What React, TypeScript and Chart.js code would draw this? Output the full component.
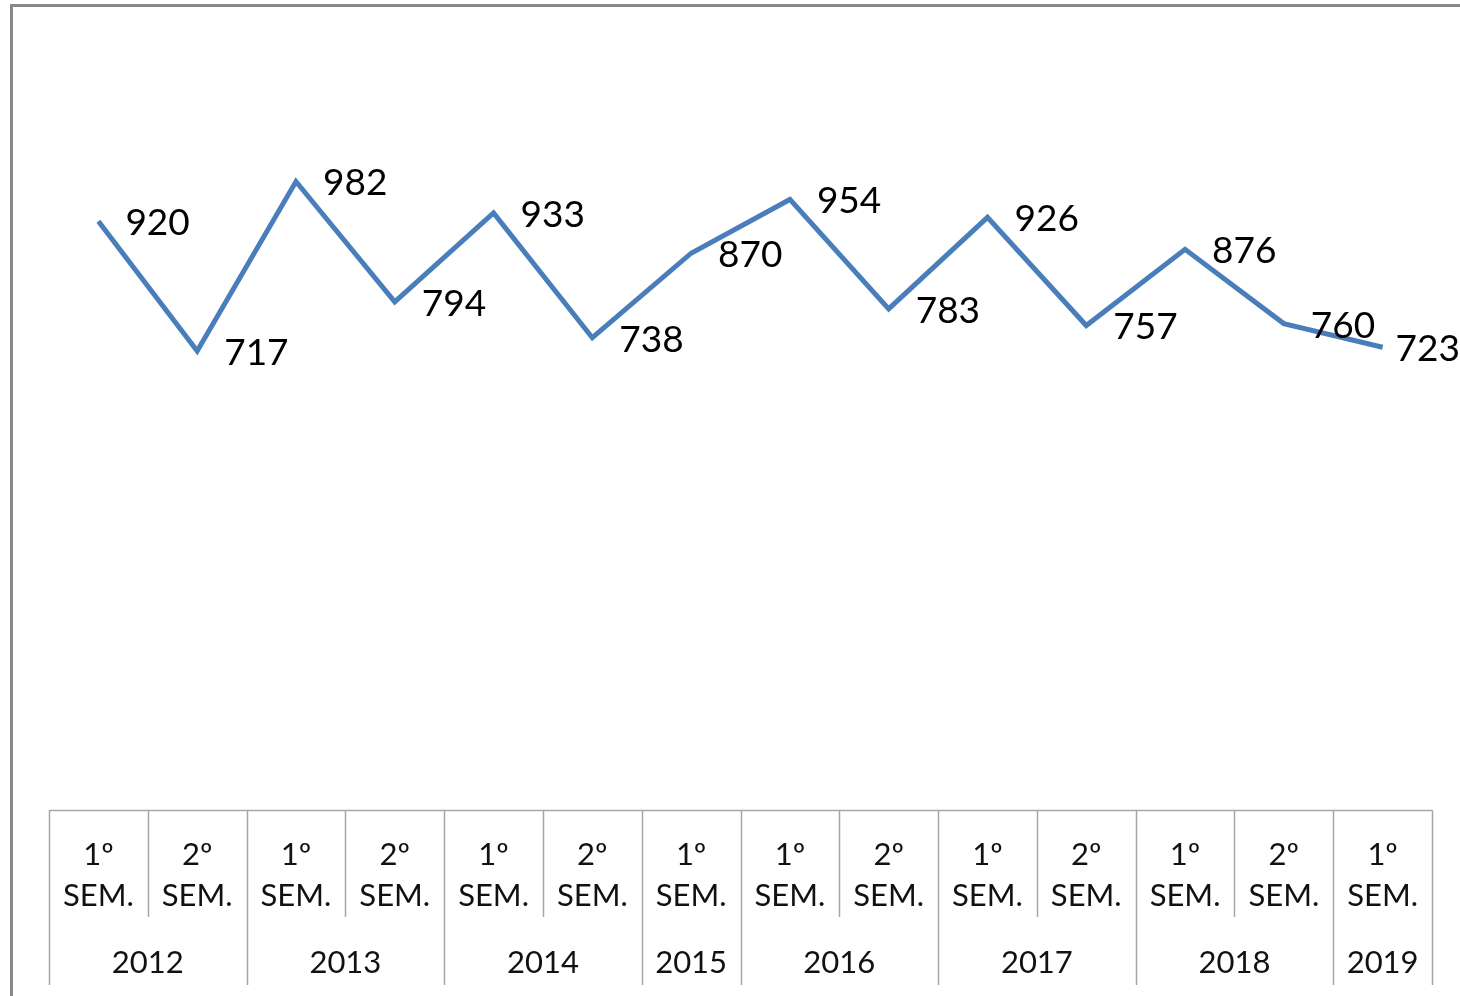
import React, { useEffect, useRef } from 'react';
import { Chart, registerables } from 'chart.js';

Chart.register(...registerables);

const semesters = [
  '1º SEM.', '2º SEM.', '1º SEM.', '2º SEM.', '1º SEM.', '2º SEM.', '1º SEM.',
  '1º SEM.', '2º SEM.', '1º SEM.', '2º SEM.', '1º SEM.', '2º SEM.', '1º SEM.',
];
const years = [
  '2012', '2012', '2013', '2013', '2014', '2014', '2015',
  '2016', '2016', '2017', '2017', '2018', '2018', '2019',
];
const values = [920, 717, 982, 794, 933, 738, 870, 954, 783, 926, 757, 876, 760, 723];

const FONT = 'Lato, "Open Sans", sans-serif';
const AXIS_FONT = 'Lato, "Open Sans", sans-serif';
const LINE_COLOR = '#4A7EBB';
const GRID_COLOR = '#a6a6a6';
const TEXT_COLOR = '#111111';

const framePlugin = {
  id: 'frame',
  beforeDraw(chart: any) {
    const ctx = chart.ctx;
    ctx.save();
    ctx.fillStyle = '#ffffff';
    ctx.fillRect(0, 0, chart.width, chart.height);
    ctx.strokeStyle = '#888888';
    ctx.lineWidth = 3;
    ctx.strokeRect(11.5, 5.5, chart.width + 40, chart.height + 40);
    ctx.restore();
  },
};

const tablePlugin = {
  id: 'catTable',
  afterDraw(chart: any) {
    const ctx = chart.ctx;
    const xs = chart.scales.x;
    const n = years.length;
    const half = (xs.getPixelForValue(1) - xs.getPixelForValue(0)) / 2;
    const top = xs.top;
    const bottomFull = xs.bottom;
    const bottomShort = top + 107;
    ctx.save();
    ctx.strokeStyle = GRID_COLOR;
    ctx.lineWidth = 1.5;
    ctx.beginPath();
    ctx.moveTo(xs.getPixelForValue(0) - half, top + 0.5);
    ctx.lineTo(xs.getPixelForValue(n - 1) + half, top + 0.5);
    for (let i = 0; i <= n; i++) {
      const bx = i < n ? xs.getPixelForValue(i) - half : xs.getPixelForValue(n - 1) + half;
      const isYear = i === 0 || i === n || years[i] !== years[i - 1];
      const px = Math.round(bx) + 0.5;
      ctx.moveTo(px, top);
      ctx.lineTo(px, isYear ? bottomFull : bottomShort);
    }
    ctx.stroke();

    ctx.fillStyle = TEXT_COLOR;
    ctx.font = `31px ${AXIS_FONT}`;
    ctx.textAlign = 'center';
    ctx.textBaseline = 'middle';
    let start = 0;
    for (let i = 1; i <= n; i++) {
      if (i === n || years[i] !== years[start]) {
        const cx = (xs.getPixelForValue(start) + xs.getPixelForValue(i - 1)) / 2;
        ctx.fillText(years[start], cx, top + 153);
        start = i;
      }
    }
    ctx.restore();
  },
};

const labelPlugin = {
  id: 'dataLabels',
  afterDatasetsDraw(chart: any) {
    const ctx = chart.ctx;
    const meta = chart.getDatasetMeta(0);
    ctx.save();
    ctx.fillStyle = '#000000';
    ctx.font = `37px ${FONT}`;
    ctx.textAlign = 'left';
    ctx.textBaseline = 'middle';
    meta.data.forEach((el: any, i: number) => {
      const text = String(values[i]);
      const w = ctx.measureText(text).width;
      let x = el.x + 27;
      if (x + w > chart.width) x = chart.width - w;
      ctx.fillText(text, x, el.y + 2);
    });
    ctx.restore();
  },
};

export default function App() {
  const ref = useRef<HTMLCanvasElement>(null);
  useEffect(() => {
    document.body.style.margin = '0';
    const chart = new Chart(ref.current as HTMLCanvasElement, {
      type: 'line',
      data: {
        labels: semesters.map((s, i) => `${s}-${i}`),
        datasets: [
          {
            data: values,
            borderColor: LINE_COLOR,
            borderWidth: 5,
            pointRadius: 0,
            pointHoverRadius: 0,
            tension: 0,
            fill: false,
            borderJoinStyle: 'miter',
            borderCapStyle: 'butt',
          },
        ],
      },
      options: {
        animation: false,
        responsive: false,
        devicePixelRatio: 1,
        events: [],
        layout: { padding: { left: 49, right: 28, top: 42, bottom: 11 } },
        plugins: { legend: { display: false }, tooltip: { enabled: false }, title: { display: false } },
        scales: {
          x: {
            type: 'category',
            offset: true,
            grid: { display: false },
            border: { display: false },
            afterFit: (scale: any) => {
              scale.height = 175;
            },
            ticks: {
              autoSkip: false,
              maxRotation: 0,
              minRotation: 0,
              padding: 16,
              color: TEXT_COLOR,
              font: { family: AXIS_FONT, size: 31, lineHeight: 41 / 31 },
              callback: (_v: any, index: number) => semesters[index].split(' '),
            },
          },
          y: {
            display: false,
            min: 0,
            max: 1200,
          },
        },
      },
      plugins: [framePlugin, tablePlugin, labelPlugin],
    });
    return () => chart.destroy();
  }, []);
  return (
    <div style={{ position: 'fixed', left: 0, top: 0, width: 1460, height: 996 }}>
      <canvas ref={ref} width={1460} height={996} style={{ display: 'block' }} />
    </div>
  );
}
